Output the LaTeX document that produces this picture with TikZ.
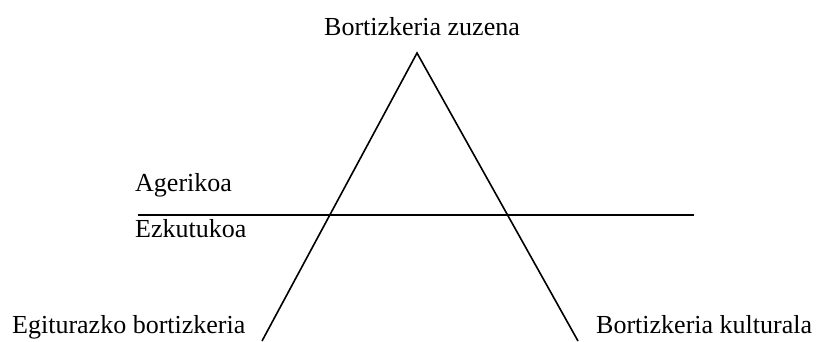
\documentclass[tikz,border=0pt]{standalone}
\usepackage{fontspec}
\setmainfont{Liberation Serif}
\begin{document}
\begin{tikzpicture}[x=1pt, y=-1pt,
    lbl/.style={inner sep=0pt, anchor=base west, font=\fontsize{26}{30}\selectfont},
    edge/.style={line width=1.6pt, black}]
    \useasboundingbox (0,0) rectangle (818,341);
    % Triangle corners
    \coordinate (apex) at (417,53);
    \coordinate (lbase) at (262,341);
    \coordinate (rbase) at (578,341);
    % Dividing line
    \coordinate (lineL) at (138,215);
    \coordinate (lineR) at (694,215);
    % Labels
    \node[lbl, anchor=base] (direct) at (422,35) {Bortizkeria zuzena};
    \node[lbl] (visible) at (135,191) {Agerikoa};
    \node[lbl] (hidden) at (135,237) {Ezkutukoa};
    \node[lbl] (struct) at (12,333) {Egiturazko bortizkeria};
    \node[lbl] (cultural) at (596,333) {Bortizkeria kulturala};
    % Lines
    \draw[edge] (lbase) -- (apex) -- (rbase);
    \draw[edge] (lineL) -- (lineR);
\end{tikzpicture}
\end{document}
